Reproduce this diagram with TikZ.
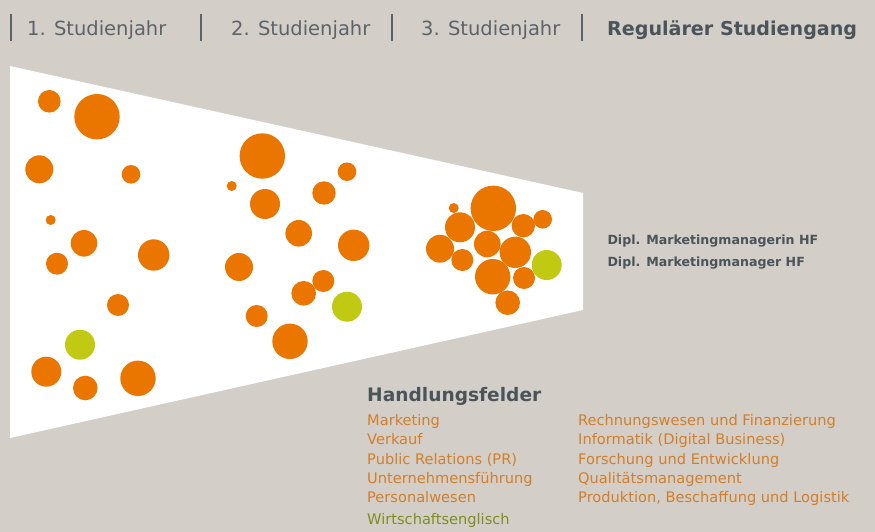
\documentclass[tikz,border=0pt]{standalone}
\usepackage{fontspec}
\setmainfont{DejaVu Sans}
\usetikzlibrary{positioning}
\definecolor{hintergrund}{HTML}{D3CFC8}
\definecolor{orangekreis}{HTML}{EA7600}
\definecolor{gruenkreis}{HTML}{C1C912}
\definecolor{dunkeltext}{HTML}{4A545A}
\definecolor{grautext}{HTML}{5C6469}
\definecolor{orangetext}{HTML}{D27E2A}
\definecolor{gruentext}{HTML}{7D8E1E}

\begin{document}
\begin{tikzpicture}[x=1pt,y=-1pt,
  kopf/.style={anchor=base west,inner sep=0pt,text=grautext,font=\fontsize{19.5}{22}\selectfont},
  titel/.style={anchor=base west,inner sep=0pt,text=dunkeltext,font=\fontsize{19.1}{22}\selectfont\bfseries},
  diplom/.style={anchor=base west,inner sep=0pt,text=dunkeltext,font=\fontsize{12.6}{15}\selectfont\bfseries},
  feld/.style={anchor=base west,inner sep=0pt,text=orangetext,font=\fontsize{14.6}{18}\selectfont},
  balken/.style={draw=grautext,line width=1.6pt},
  kreis/.style={fill=orangekreis},
  gruen/.style={fill=gruenkreis}]
\fill[hintergrund] (0,0) rectangle (875,532);
\fill[white] (10,66) -- (583,193) -- (583,310) -- (10,438) -- cycle;

% Kopfzeile
\foreach \x in {11,201,392,582}
  \draw[balken] (\x,14) -- (\x,41);
\draw (27,35.7) node(jahr1)[kopf] {1. Studienjahr};
\draw (231,35.7) node(jahr2)[kopf] {2. Studienjahr};
\draw (421,35.7) node(jahr3)[kopf] {3. Studienjahr};
\draw (607,35.7) node(regulaer)[titel] {Regulärer Studiengang};

% 1. Studienjahr
\foreach \x/\y/\r in {49.3/101.3/11.3, 97/116.7/22.7, 39.3/169.3/14, 131/174.3/9.3,
  50.7/220/5, 84/243.3/13.3, 57/263.7/11, 153.7/255/15.7, 118/305/11,
  46.3/371.7/15, 85.3/388/12.3, 138/378.3/17.7}
  \fill[kreis] (\x,\y) circle[radius=\r pt];
\fill[gruen] (80,344.7) circle[radius=15pt];

% 2. Studienjahr
\foreach \x/\y/\r in {262.3/156/22.7, 231.7/186/5, 265/204/15, 347/171.7/9.3,
  324/193/11.7, 298.7/233.3/13.3, 353.7/245.3/15.7, 239/267/14, 323.3/281/11,
  303.7/293.3/12.3, 256.7/316/11, 290/341.3/17.7}
  \fill[kreis] (\x,\y) circle[radius=\r pt];
\fill[gruen] (347,306.7) circle[radius=15pt];

% 3. Studienjahr
\foreach \x/\y/\r in {493.3/208.3/22.7, 453.7/208/5, 460/227.3/15, 542.7/219.3/9.3,
  523.3/225.7/11.7, 440/248.7/14, 487.3/244/13.3, 515.3/252.3/15.7, 462.3/260/11,
  492.7/276.7/17.7, 524/278/11, 507.7/302.7/12.3}
  \fill[kreis] (\x,\y) circle[radius=\r pt];
\fill[gruen] (546.7,265) circle[radius=15pt];

% Abschluss
\draw (607.3,244) node(dipla)[diplom] {Dipl. Marketingmanagerin HF};
\draw (607.3,266.7) node(diplb)[diplom] {Dipl. Marketingmanager HF};

% Handlungsfelder
\draw (367,401) node(handlung)[titel,font=\fontsize{18.6}{22}\selectfont\bfseries] {Handlungsfelder};
\foreach \feldtext [count=\i] in {Marketing, Verkauf, Public Relations (PR),
  Unternehmensführung, Personalwesen}
  \draw (367,{425.5+19.3*(\i-1)}) node(links\i)[feld] {\feldtext};
\foreach \feldtext [count=\i] in {Rechnungswesen und Finanzierung,
  Informatik (Digital Business), Forschung und Entwicklung, Qualitätsmanagement,
  {Produktion, Beschaffung und Logistik}}
  \draw (578,{425.5+19.3*(\i-1)}) node(rechts\i)[feld] {\feldtext};
\draw (367,524.3) node(englisch)[feld,text=gruentext] {Wirtschaftsenglisch};
\end{tikzpicture}
\end{document}
